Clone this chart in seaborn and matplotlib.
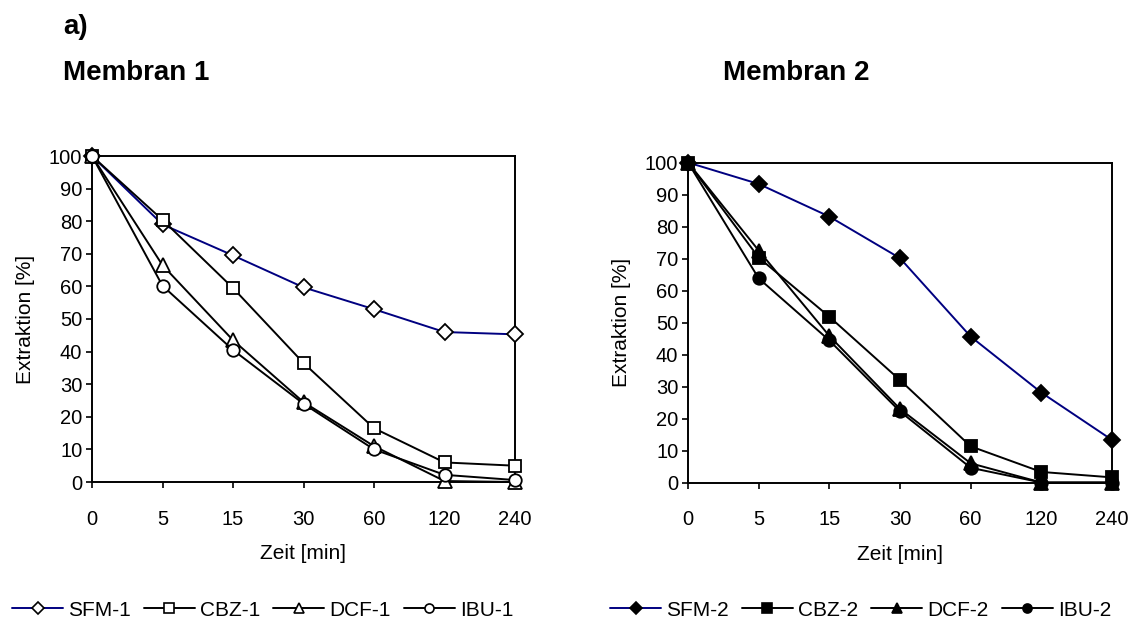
import numpy as np
import pandas as pd
import matplotlib
matplotlib.use("Agg")
import matplotlib.pyplot as plt
import seaborn as sns

sns.set_theme(style="white")
plt.rcParams["font.family"] = ["Liberation Sans", "DejaVu Sans"]
plt.rcParams["text.color"] = "black"
plt.rcParams["axes.labelcolor"] = "black"
plt.rcParams["xtick.color"] = "black"
plt.rcParams["ytick.color"] = "black"

# Sampling times (equally spaced categories)
times = ["0", "5", "15", "30", "60", "120", "240"]

# Membran 1 – extraction in %
sfm_1 = [100, 79, 69.5, 59.7, 53, 46, 45.3]
cbz_1 = [100, 80.4, 59.5, 36.5, 16.5, 6, 5]
dcf_1 = [100, 66.5, 43.5, 24.5, 11, 0.3, 0]
ibu_1 = [100, 60.2, 40.5, 24, 10, 2.2, 0.6]

# Membran 2 – extraction in %
sfm_2 = [100, 93.3, 83.1, 70.1, 45.6, 28.1, 13.3]
cbz_2 = [100, 70.3, 51.8, 32, 11.3, 3.3, 1.6]
dcf_2 = [100, 72.5, 45.8, 23, 6, 0, 0]
ibu_2 = [100, 63.8, 44.4, 22.2, 4.6, 0, 0]

x_pos = np.arange(len(times))

NAVY = "#000080"
BLACK = "black"

fig = plt.figure(figsize=(11.34, 6.21), dpi=100)
ax1 = fig.add_axes([92 / 1134, 1 - 482 / 621, 423 / 1134, 326 / 621])
ax2 = fig.add_axes([688 / 1134, 1 - 482.5 / 621, 424 / 1134, 320 / 621])


def draw_series(ax, values, label, color, marker, filled, msize):
    df = pd.DataFrame({"pos": x_pos, "val": values})
    sns.lineplot(
        data=df, x="pos", y="val", ax=ax, color=color, linewidth=1.4,
        marker=marker, markersize=msize,
        markerfacecolor=(BLACK if filled else "white"),
        markeredgecolor=BLACK, markeredgewidth=1.3,
        label=label, clip_on=False, zorder=3,
    )


draw_series(ax1, sfm_1, "SFM-1", NAVY, "D", False, 8)
draw_series(ax1, cbz_1, "CBZ-1", BLACK, "s", False, 9)
draw_series(ax1, dcf_1, "DCF-1", BLACK, "^", False, 9.5)
draw_series(ax1, ibu_1, "IBU-1", BLACK, "o", False, 9)

draw_series(ax2, sfm_2, "SFM-2", NAVY, "D", True, 8)
draw_series(ax2, cbz_2, "CBZ-2", BLACK, "s", True, 9)
draw_series(ax2, dcf_2, "DCF-2", BLACK, "^", True, 9.5)
draw_series(ax2, ibu_2, "IBU-2", BLACK, "o", True, 9)

legend_items = []
for ax in (ax1, ax2):
    ax.set_xlim(0, len(times) - 1)
    ax.set_ylim(0, 100)
    ax.set_xticks(x_pos)
    ax.set_xticklabels(times)
    ax.set_yticks(np.arange(0, 101, 10))
    ax.tick_params(axis="both", direction="out", length=4, width=1.2,
                   colors=BLACK, labelsize=14.5, bottom=True, left=True)
    ax.tick_params(axis="x", pad=16)
    ax.tick_params(axis="y", pad=3)
    for sp in ax.spines.values():
        sp.set_visible(True)
        sp.set_color(BLACK)
        sp.set_linewidth(1.4)
    ax.set_xlabel("Zeit [min]", fontsize=15, labelpad=11, color=BLACK)
    ax.set_ylabel("Extraktion [%]", fontsize=15, labelpad=10, color=BLACK)
    ax.grid(False)
    legend_items.append(ax.get_legend_handles_labels())
    ax.get_legend().remove()

leg_kw = dict(ncol=4, frameon=False, fontsize=15, handlelength=2.45,
              handletextpad=0.25, columnspacing=0.62, borderaxespad=0,
              borderpad=0, labelcolor=BLACK)
anchors = [(12 / 1134, 1 - 610 / 621), (610 / 1134, 1 - 610 / 621)]
for (handles, labels), anchor in zip(legend_items, anchors):
    leg = fig.legend(handles, labels, loc="center left", bbox_to_anchor=anchor, **leg_kw)
    for h in leg.legend_handles:
        h.set_markersize(6.5)
        h.set_markeredgewidth(1.2)

fig.text(63 / 1134, 1 - 27 / 621, "a)", fontsize=20, fontweight="bold",
         va="center", ha="left", color=BLACK)
fig.text(63 / 1134, 1 - 73 / 621, "Membran 1", fontsize=20, fontweight="bold",
         va="center", ha="left", color=BLACK)
fig.text(723 / 1134, 1 - 73 / 621, "Membran 2", fontsize=20, fontweight="bold",
         va="center", ha="left", color=BLACK)

fig.savefig("out.png", dpi=100)
